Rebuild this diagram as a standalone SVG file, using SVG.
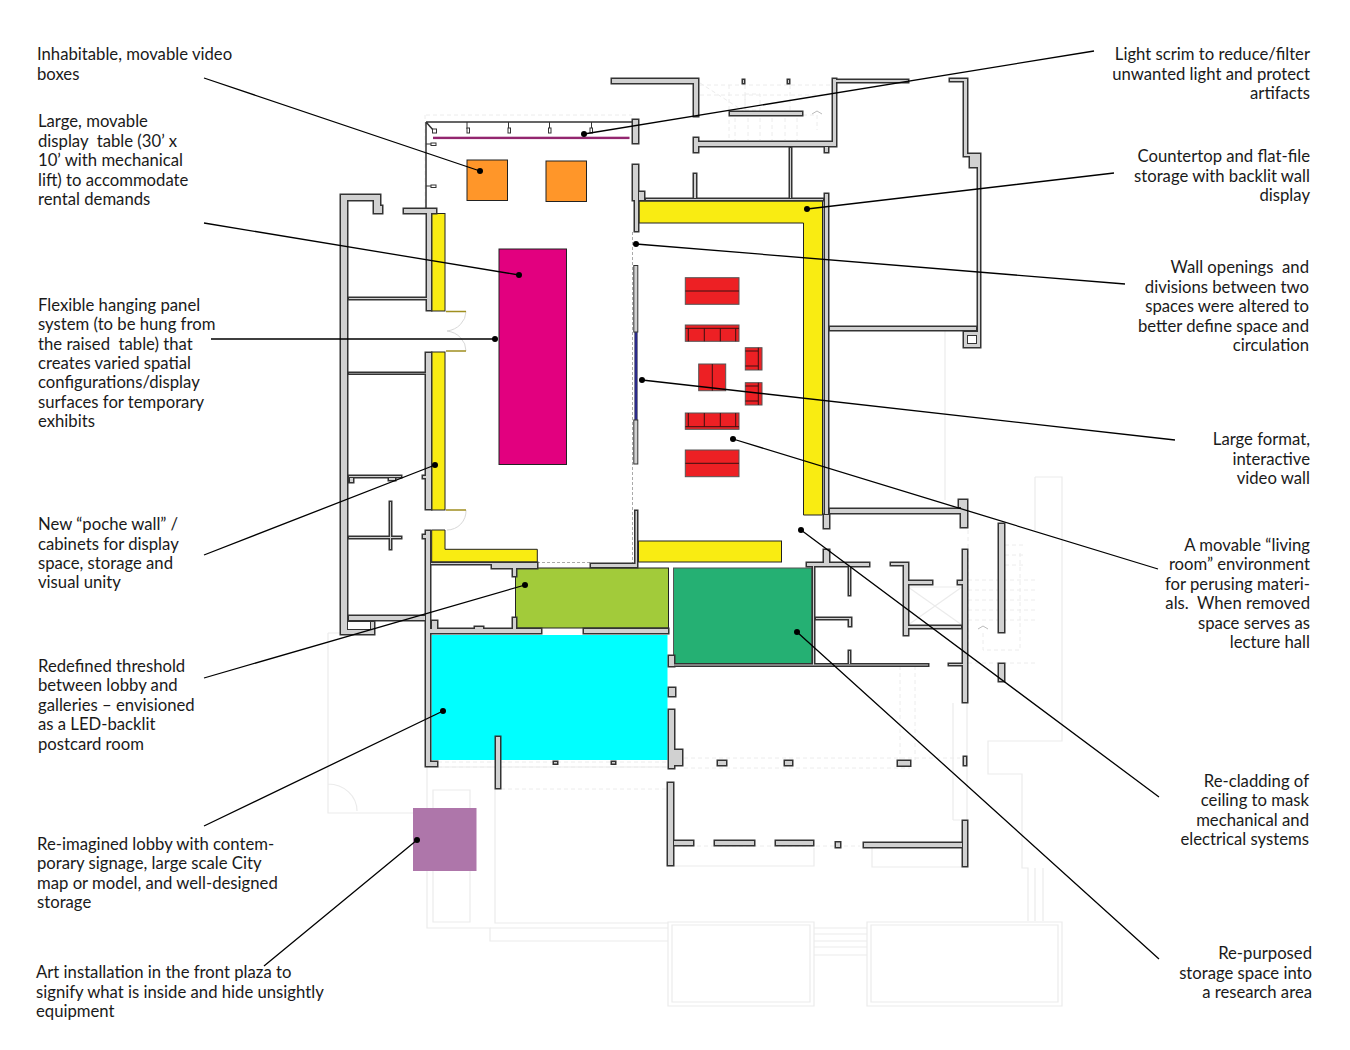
<svg xmlns="http://www.w3.org/2000/svg" width="1350" height="1050" viewBox="0 0 1350 1050">
<style>
text{font-family:"Lato","Liberation Sans",sans-serif;font-size:16.7px;fill:#1a1a1a;white-space:pre}
.e{text-anchor:end}
.lt{fill:none;stroke:#ebebeb;stroke-width:1.2}
.ld{fill:none;stroke:#ececec;stroke-width:1;stroke-dasharray:4 3}
.f{stroke:#222;stroke-width:1}
.r{fill:#ed2024;stroke:#555;stroke-width:1}
.rl{fill:none;stroke:#3a1010;stroke-width:1}
.wo{fill:#333;stroke:#333;stroke-width:3;stroke-linejoin:miter}
.wf{fill:#d1d1d1;stroke:none}
.thin{fill:none;stroke:#333;stroke-width:1.5}
.tab{fill:#fff;stroke:#333;stroke-width:1}
.lead{fill:none;stroke:#000;stroke-width:1.3}
</style>
<defs>
<path id="w" d="M341 195H347V634H341ZM341 195H380V200H341ZM374 195H380V206H382V213H374ZM404 209H436V213H404ZM427 209H431V310H427ZM349 298H427V299H349ZM426 353H431V509H426ZM349 373H426V373.600H349ZM349 476H401V477H349ZM350 478H353V482H350ZM389 478H395V480H389ZM390 502H391V549H390ZM349 537H401V538H349ZM423 476H426V478H423ZM423 535H426V538H423ZM426 531H430V766H426ZM426 762H437V766H426ZM431 563H537V564H431ZM492 563H537V568H492ZM513 563H516V576H513ZM349 616H425V620H349ZM341 622H374V634H341ZM427 629H541V633H427ZM432 621H437V629H432ZM513 618H516V629H513ZM475 627H483V629H475ZM584 629H668V633H584ZM591 564H637V567H591ZM635.500 511H637V565H635.500ZM633 120H638V143H633ZM633 165H638V200H633ZM639 192H644V200H639ZM635 200H638V231H635ZM646 199H823V200H646ZM694 174H696V198H694ZM790 148H791V198H790ZM694 142H836V146H694ZM694 138H698V152H694ZM825 147H828V152H825ZM833 79H836V145H833ZM833 80H908V82H833ZM612 79H698V83H612ZM694 79H698V116H694ZM730 112H802V115H730ZM825 194H828V514H825ZM824 515H829V528H824ZM830 327H976V330H830ZM964 332H980V347H964ZM978 154H980V347H978ZM964 79H967V156H964ZM950 79H967V81H950ZM964 154H980V156H964ZM970 154H980V167H970ZM830 509H966V513H830ZM959 500H967V507H959ZM961 500H967V527H961ZM807 563H869V566H807ZM824 550H829V563H824ZM813 564H814V665H813ZM672.500 664.500H928V665.500H672.500ZM849 564H850V595H849ZM816 618H851V619H816ZM849 618H851V626H849ZM849 651H850V664H849ZM904 563H908V635H904ZM891 563H905V565H891ZM905 581H932V584H905ZM905 626H961V628H905ZM963 550H967V702H963ZM958 581H963V584H958ZM949 664H963V665H949ZM999 524H1004V632H999ZM999 664H1004V681H999ZM669 656H674V666H669ZM669 688H675V696H669ZM669 710H674V768H669ZM674 750H682V765H674ZM668 783H673V865H668ZM674 841H693V845H674ZM715 841H754V845H715ZM776 841H813V845H776ZM836 842.500H840V847H836ZM864 843H962V847H864ZM963 821H967V866H963ZM496 737H500V788H496ZM718 761H726V765H718ZM785 761H792V765H785ZM898 761H910V765.500H898ZM964 757H966V765H964ZM554 762H557V763.500H554ZM612 762H615V763.500H612ZM743 80H744V83H743ZM788 80H789V83H788Z"/>
</defs>

<g id="base-plan-light">
<path class="lt" d="M328 633H340M328 633V813H413M328 784A29 27 0 0 1 357 811M427 767V928H490V941H668M495 789V923H668M433 808V790H470V808M433 871V922H470V871M438 767H668"/>
<path class="lt" d="M668 922H814V1006H668ZM672 925H810V1002H672ZM867 922H1062V1006H867ZM871 925H1058V1002H871ZM814 928H867M814 934H867M814 941H867M814 947H867M814 955H867M490 928H668"/>
<path class="lt" d="M1035 477H1062V741H988V774H1022V868H1028V921M1035 868V921M1043 868V921M1035 477V530M953 703V820M967 703V820M953 820H960M945 331V500"/>
<path class="lt" d="M667 866H814V848M872 848V867H962"/>
<path class="lt" d="M908 587H962V625H908ZM908 587L962 625M962 587L908 625"/>
<path class="ld" d="M968 530V663H1035M968 580H1035M968 590H1035M968 600H1035M968 610H1035M968 620H1035M983 633V650H1020V550M1005 545H1025M1005 555H1025M1005 565H1025"/>
<path class="ld" d="M700 85H832M700 95H832M729 85V138M745 85V115M790 85V115M700 83L745 112M745 94H760V110H745ZM735 118V140M748 118V140M760 118V140M772 118V140M785 118V140M797 118V140M803 115H817V130M426 115H632M425 115V208"/>
<path class="ld" d="M684 758H960M684 768H910M438 762H668M438 767H668M501 789H668M900 666V760M915 666V760M676 846H860"/>
<path fill="none" stroke="#bbb" stroke-width="1" d="M812 114L817 111L822 114M978 629L983 626L988 629"/>
<path fill="none" stroke="#d8d8d8" stroke-width="1" d="M466 311.500A22 20 0 0 1 447 331A22 20 0 0 1 466 351M466 510A19 19 0 0 1 447 530"/>
<path fill="none" stroke="#a08f20" stroke-width="1.300" d="M446 311.500H466M446 351H466M446 510H466"/>
<path fill="none" stroke="#aaa" stroke-width="1" stroke-dasharray="3 2" d="M632.500 232V563M537 562.500H590"/>
</g>

<g id="programme-fills">
<rect id="video-box-1" class="f" x="467" y="160" width="40.500" height="40.500" fill="#ff9629"/>
<rect id="video-box-2" class="f" x="546" y="161" width="40.500" height="40.500" fill="#ff9629"/>
<rect id="display-table" class="f" x="499" y="249" width="67.500" height="215.500" fill="#e2007f"/>
<rect id="scrim" x="433" y="136.700" width="196.500" height="2.400" fill="#93266f"/>
<path id="poche-top" class="f" d="M639 201H822.500V515H803.500V223H639Z" fill="#f9ec12"/>
<rect id="poche-left-1" class="f" x="431.500" y="213.500" width="13.500" height="97.500" fill="#f9ec12"/>
<rect id="poche-left-2" class="f" x="431.500" y="352" width="13.500" height="158" fill="#f9ec12"/>
<path id="poche-left-3" class="f" d="M431.700 530H445V549.300H537.300V562H431.700Z" fill="#f9ec12"/>
<rect id="poche-bottom" class="f" x="638.500" y="541" width="143" height="21" fill="#f9ec12"/>
<rect id="threshold" class="f" x="515.500" y="568" width="153" height="60" fill="#a2cb3a"/>
<rect id="research-area" x="673.500" y="568" width="138.500" height="95.500" fill="#25b073" stroke="#555" stroke-width="1"/>
<rect id="lobby" x="431.500" y="635" width="236" height="125" fill="#00ffff"/>
<rect id="installation" x="413" y="808" width="63.500" height="63" fill="#ae76aa"/>
</g>

<g id="walls">
<use href="#w" class="wo"/>
<use href="#w" class="wf"/>
<rect class="tab" x="347.500" y="621.500" width="23" height="8"/>
<rect class="tab" x="967.500" y="335.500" width="9" height="8"/>
<path class="thin" d="M426 122H632M426 122V208M426 122L434 131"/>
<path fill="none" stroke="#333" stroke-width="1" d="M467 122V129M508.500 122V129M549.500 122V129M591.500 122V129M426 144H433M426 186H433"/>
<rect class="tab" x="432.500" y="129" width="4" height="4"/>
<rect class="tab" x="467" y="128" width="2.500" height="5"/>
<rect class="tab" x="508" y="128" width="2.500" height="5"/>
<rect class="tab" x="548.500" y="128" width="2.500" height="5"/>
<rect class="tab" x="590" y="128" width="2.500" height="5"/>
<rect class="tab" x="431" y="143" width="5" height="2.500"/>
<rect class="tab" x="431" y="185" width="5" height="2.500"/>
<rect x="634.500" y="332" width="3" height="88" fill="#2a2a8a" stroke="#777" stroke-width="0.600"/>
<rect class="tab" x="633.800" y="265.500" width="4" height="66.500" style="fill:#d1d1d1"/>
<rect class="tab" x="633.800" y="420" width="4" height="44" style="fill:#d1d1d1"/>
</g>

<g id="living-room">
<rect class="r" x="685.300" y="277.700" width="53.700" height="26.600"/>
<path class="rl" d="M685.300 291H739"/>
<rect class="r" x="685.300" y="325" width="53.700" height="16.300"/>
<path class="rl" d="M685.300 328.300H739M688.300 328.300V341.300M704.300 328.300V341.300M720.300 328.300V341.300M735.700 328.300V341.300"/>
<rect class="r" x="745.300" y="347.700" width="16.700" height="22.300"/>
<path class="rl" d="M745.300 351H758.300M745.300 366H758.300M758.300 347.700V370"/>
<rect class="r" x="698.700" y="364" width="27" height="26.700"/>
<path class="rl" d="M712.300 364V390.700"/>
<rect class="r" x="745.300" y="382.700" width="16.700" height="22.300"/>
<path class="rl" d="M745.300 386H758.300M745.300 401H758.300M758.300 382.700V405"/>
<rect class="r" x="685.300" y="413" width="53.700" height="16.300"/>
<path class="rl" d="M685.300 426.700H739M688.300 413V426.700M704.300 413V426.700M720.300 413V426.700M735.700 413V426.700"/>
<rect class="r" x="685.300" y="450" width="53.700" height="26.700"/>
<path class="rl" d="M685.300 463.300H739"/>
</g>

<g id="connectors">
<path class="lead" d="M204 78L480 171M204 223L519 275M211 339H495M204 555L435 465M204 678L525 585M204 826L443 711M264 966L417 840M1094 51L584 134M1114 173L807 209M1125 284L636 244M1175 440L642 380M1158 569L733 439M1159 797L801 530M1159 959L797 632"/>
<g fill="#000">
<circle cx="480" cy="171" r="3"/><circle cx="519" cy="275" r="3"/><circle cx="495" cy="339" r="3"/><circle cx="435" cy="465" r="3"/><circle cx="525" cy="585" r="3"/><circle cx="443" cy="711" r="3"/><circle cx="417" cy="840" r="3"/><circle cx="584" cy="134" r="3"/><circle cx="807" cy="209" r="3"/><circle cx="636" cy="244" r="3"/><circle cx="642" cy="380" r="3"/><circle cx="733" cy="439" r="3"/><circle cx="801" cy="530" r="3"/><circle cx="797" cy="632" r="3"/>
</g>
</g>

<g id="labels-left">
<text x="37" y="60">Inhabitable, movable video</text><text x="37" y="80">boxes</text>
<text x="38" y="127">Large, movable</text><text x="38" y="147">display  table (30’ x</text><text x="38" y="166">10’ with mechanical</text><text x="38" y="186">lift) to accommodate</text><text x="38" y="205">rental demands</text>
<text x="38" y="311">Flexible hanging panel</text><text x="38" y="330">system (to be hung from</text><text x="38" y="350">the raised  table) that</text><text x="38" y="369">creates varied spatial</text><text x="38" y="388">configurations/display</text><text x="38" y="408">surfaces for temporary</text><text x="38" y="427">exhibits</text>
<text x="38" y="530">New “poche wall” /</text><text x="38" y="550">cabinets for display</text><text x="38" y="569">space, storage and</text><text x="38" y="588">visual unity</text>
<text x="38" y="672">Redefined threshold</text><text x="38" y="691">between lobby and</text><text x="38" y="711">galleries – envisioned</text><text x="38" y="730">as a LED-backlit</text><text x="38" y="750">postcard room</text>
<text x="37" y="850">Re-imagined lobby with contem-</text><text x="37" y="869">porary signage, large scale City</text><text x="37" y="889">map or model, and well-designed</text><text x="37" y="908">storage</text>
<text x="36" y="978">Art installation in the front plaza to</text><text x="36" y="998">signify what is inside and hide unsightly</text><text x="36" y="1017">equipment</text>
</g>
<g id="labels-right">
<text class="e" x="1310" y="60">Light scrim to reduce/filter</text><text class="e" x="1310" y="80">unwanted light and protect</text><text class="e" x="1310" y="99">artifacts</text>
<text class="e" x="1310" y="162">Countertop and flat-file</text><text class="e" x="1310" y="182">storage with backlit wall</text><text class="e" x="1310" y="201">display</text>
<text class="e" x="1309" y="273">Wall openings  and</text><text class="e" x="1309" y="293">divisions between two</text><text class="e" x="1309" y="312">spaces were altered to</text><text class="e" x="1309" y="332">better define space and</text><text class="e" x="1309" y="351">circulation</text>
<text class="e" x="1310" y="445">Large format,</text><text class="e" x="1310" y="465">interactive</text><text class="e" x="1310" y="484">video wall</text>
<text class="e" x="1310" y="551">A movable “living</text><text class="e" x="1310" y="570">room” environment</text><text class="e" x="1310" y="590">for perusing materi-</text><text class="e" x="1310" y="609">als.  When removed</text><text class="e" x="1310" y="629">space serves as</text><text class="e" x="1310" y="648">lecture hall</text>
<text class="e" x="1309" y="787">Re-cladding of</text><text class="e" x="1309" y="806">ceiling to mask</text><text class="e" x="1309" y="826">mechanical and</text><text class="e" x="1309" y="845">electrical systems</text>
<text class="e" x="1312" y="959">Re-purposed</text><text class="e" x="1312" y="979">storage space into</text><text class="e" x="1312" y="998">a research area</text>
</g>
</svg>
